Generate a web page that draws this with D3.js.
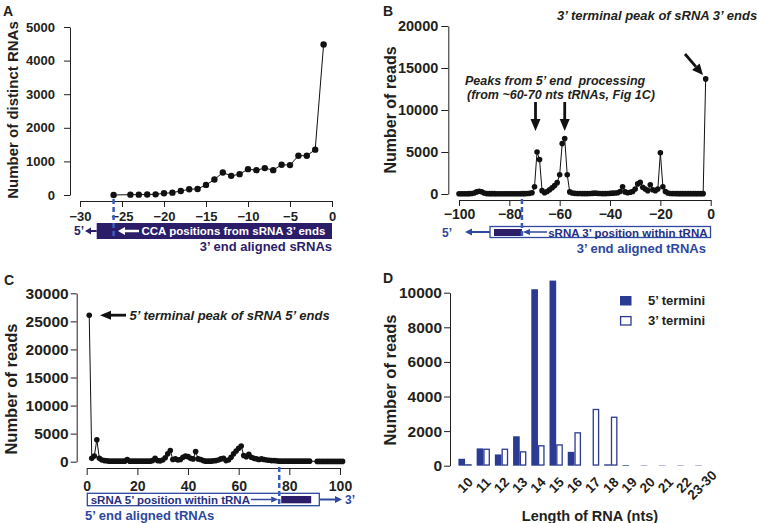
<!DOCTYPE html>
<html lang="en">
<head>
<meta charset="utf-8">
<title>sRNA termini</title>
<script src="https://d3js.org/d3.v7.min.js"></script>
<style>
  body { margin:0; background:#fff; }
  svg { width:757px; height:523px; display:block; background:#fff; }
  text { font-family:"Liberation Sans", Arial, sans-serif; font-weight:bold; fill:#231f20; }
  .tick line, .domain { stroke:#231f20; }
  .note { font-style:italic; }
</style>
</head>
<body>
<svg></svg>
<script>
// ---- data ----
// A: distinct RNAs per CCA position from sRNA 3' end
const aPos = [-26, -24, -23, -22, -21, -20, -19, -18, -17, -16, -15, -14, -13, -12, -11, -10, -9, -8, -7, -6, -5, -4, -3, -2, -1];
const aVal = [0, 10, 10, 15, 20, 50, 70, 120, 170, 180, 300, 460, 670, 570, 620, 770, 740, 800, 740, 900, 890, 1170, 1170, 1350, 4480];
const aXTicks = [-30, -25, -20, -15, -10, -5, 0];
const aYTicks = [0, 1000, 2000, 3000, 4000, 5000];

// B: reads by sRNA 3' position within tRNA (positions -100 .. -2)
const bPos = d3.range(-100, -1);
const bVal = [30, 30, 30, 30, 40, 60,
  120, 250, 330, 260, 120,
  50, 40, 40, 40, 30, 30, 30, 30, 30, 30, 30, 30, 30, 30, 40, 40, 60, 80,
  150, 850, 5000, 4100, 400, 150, 300, 500, 750, 1000, 1350, 2300, 6000, 6600, 2300, 250, 120,
  80, 60, 60, 50, 50, 50, 60, 80, 100, 80, 60, 50, 50, 60, 80, 100, 120, 150,
  300, 850, 250, 150, 200, 300, 600, 1200, 1400, 800, 600, 400, 1100, 500, 400, 600, 4900, 850, 300, 120,
  60, 50, 50, 40, 40, 40, 40, 40, 40, 40, 40, 40, 40, 40,
  13700];
const bXTicks = [-100, -80, -60, -40, -20, 0];
const bYTicks = [0, 5000, 10000, 15000, 20000];

// C: reads by sRNA 5' position within tRNA (1..88, 91..101)
const cPos = d3.range(1, 89).concat(d3.range(91, 102));
const cVal = [26100, 600, 1000, 3900, 600, 300, 200, 150,
  100, 100, 100, 100, 100, 100, 100, 400,
  100, 100, 100, 100, 100, 100, 100, 100, 100,
  200, 600, 200, 150, 300, 700, 1400, 2000, 400, 500, 300, 400, 800, 1000, 900,
  600, 500, 1800, 500, 400, 200, 100, 100, 100, 150, 200, 300, 500, 600, 200,
  300, 800, 1400, 1900, 2400, 2800, 1100, 900, 1300, 800, 600, 500, 400, 500, 400,
  300, 250, 200, 200, 150,
  100, 100, 100, 100, 100, 100, 100, 100, 100, 100, 100, 100, 100,
  50, 50, 50, 50, 50, 50, 50, 50, 50, 50, 50];
const cXTicks = [0, 20, 40, 60, 80, 100];
const cYTicks = [0, 5000, 10000, 15000, 20000, 25000, 30000];

// D: reads by RNA length
const dCats = ["10", "11", "12", "13", "14", "15", "16", "17", "18", "19", "20", "21", "22", "23-30"];
const dFive = [400, 1000, 650, 1700, 10200, 10700, 800, 0, 80, 40, 20, 20, 20, 20];
const dThree = [50, 950, 950, 800, 1150, 1200, 1900, 3250, 2800, 30, 20, 20, 20, 20];
const dYTicks = [0, 2000, 4000, 6000, 8000, 10000];

// ---- colours ----
const ink = "#231f20";
const purple = "#2c1d69";
const blue = "#2e48a0";
const dash = "#3a5cc0";
const barBlue = "#2b3a92";

const svg = d3.select("svg");
const fmt = d => d < 0 ? "\u2212" + Math.abs(d) : String(d);

function arrow(g, x1, y1, x2, y2, color, w, hl, hw) {
  const a = Math.atan2(y2 - y1, x2 - x1);
  const bx = x2 - hl * Math.cos(a), by = y2 - hl * Math.sin(a);
  g.append("line").attr("x1", x1).attr("y1", y1).attr("x2", bx).attr("y2", by)
    .attr("stroke", color).attr("stroke-width", w);
  const px = -Math.sin(a) * hw, py = Math.cos(a) * hw;
  g.append("polygon")
    .attr("points", [[x2, y2], [bx + px, by + py], [bx - px, by - py]].map(p => p.join(",")).join(" "))
    .attr("fill", color);
}

function label(x, y, txt, size, color, anchor, cls) {
  return svg.append("text").attr("x", x).attr("y", y)
    .attr("font-size", size).attr("text-anchor", anchor || "start")
    .attr("class", cls || null).style("fill", color || ink).text(txt);
}

function yTitle(x, y, txt, size) {
  svg.append("text").attr("transform", `translate(${x},${y}) rotate(-90)`)
    .attr("text-anchor", "middle").attr("font-size", size).text(txt);
}

function lineChart(pos, val, x, y, r) {
  const pts = pos.map((p, i) => ({x: p, y: val[i]}));
  svg.append("path").datum(pts)
    .attr("d", d3.line().x(d => x(d.x)).y(d => y(d.y)))
    .attr("fill", "none").attr("stroke", "#111").attr("stroke-width", 1);
  svg.append("g").selectAll("circle").data(pts).join("circle")
    .attr("cx", d => x(d.x)).attr("cy", d => y(d.y)).attr("r", r).attr("fill", "#111");
}

// ---------------- Panel A ----------------
const xA = d3.scaleLinear().domain([-30, 0]).range([80, 332]);
const yA = d3.scaleLinear().domain([0, 5000]).range([195, 27]);
svg.append("g").attr("transform", "translate(70,0)")
  .call(d3.axisLeft(yA).tickValues(aYTicks).tickFormat(fmt).tickSize(6).tickPadding(9).tickSizeOuter(0))
  .attr("font-size", 13);
svg.append("g").attr("transform", "translate(0,201)")
  .call(d3.axisBottom(xA).tickValues(aXTicks).tickFormat(fmt).tickSize(6).tickPadding(5).tickSizeOuter(0))
  .attr("font-size", 13);
lineChart(aPos, aVal, xA, yA, 3.2);
yTitle(18, 110, "Number of distinct RNAs", 15);
label(3, 16, "A", 14);

// annotation bar A
svg.append("rect").attr("x", 96.7).attr("y", 223).attr("width", xA(0) - 96.7).attr("height", 16).attr("fill", purple);
arrow(svg, 96.7, 231, 85, 231, purple, 2, 6, 3.5);
label(74, 235, "5’", 12, purple);
arrow(svg, 139, 231, 118, 231, "#fff", 2.5, 7, 4);
label(141.5, 235, "CCA positions from sRNA 3’ ends", 11.5, "#fff");
label(xA(0), 251, "3’ end aligned sRNAs", 13, purple, "end");
svg.append("line").attr("x1", xA(-26)).attr("x2", xA(-26)).attr("y1", 199).attr("y2", 239)
  .attr("stroke", dash).attr("stroke-width", 2.5).attr("stroke-dasharray", "5,3");

// ---------------- Panel B ----------------
const xB = d3.scaleLinear().domain([-100, 0]).range([459, 710.7]);
const yB = d3.scaleLinear().domain([0, 20000]).range([194, 26]);
svg.append("g").attr("transform", "translate(448.3,0)")
  .call(d3.axisLeft(yB).tickValues(bYTicks).tickFormat(fmt).tickSize(7).tickPadding(3).tickSizeOuter(0))
  .attr("font-size", 14.5);
svg.append("g").attr("transform", "translate(0,200)")
  .call(d3.axisBottom(xB).tickValues(bXTicks).tickFormat(fmt).tickSize(6).tickPadding(3).tickSizeOuter(0))
  .attr("font-size", 14);
lineChart(bPos, bVal, xB, yB, 2.8);
yTitle(396, 110, "Number of reads", 16);
label(383, 16, "B", 14);

label(465, 85, "Peaks from 5’ end  processing", 12.5, ink, "start", "note").attr("xml:space", "preserve");
label(467, 99, "(from ~60-70 nts tRNAs, Fig 1C)", 12.5, ink, "start", "note");
arrow(svg, xB(-70) + 1, 102, xB(-70) + 1, 131, "#111", 2.8, 12, 5);
arrow(svg, xB(-58), 102, xB(-58), 131, "#111", 2.8, 12, 5);
label(557, 20, "3’ terminal peak of sRNA 3’ ends", 13, ink, "start", "note");
arrow(svg, 685, 54, 703, 75, "#111", 2.8, 11, 5);

// annotation bar B
svg.append("rect").attr("x", 490).attr("y", 226.5).attr("width", 220.5).attr("height", 11)
  .attr("fill", "#fff").attr("stroke", blue).attr("stroke-width", 1.3);
svg.append("rect").attr("x", 494).attr("y", 229).attr("width", xB(-75) - 494).attr("height", 7).attr("fill", purple);
arrow(svg, 547, 232, xB(-75) + 1, 232, blue, 1.5, 7, 3);
label(707.5, 236.5, "sRNA 3’ position within tRNA", 11.5, "#27307f", "end");
arrow(svg, 490, 232, 465, 232, blue, 2, 7, 3.5);
label(442, 236.5, "5’", 12, blue);
label(706, 252.5, "3’ end aligned tRNAs", 13, blue, "end");
svg.append("line").attr("x1", xB(-75)).attr("x2", xB(-75)).attr("y1", 199).attr("y2", 238)
  .attr("stroke", dash).attr("stroke-width", 2.5).attr("stroke-dasharray", "5,3");

// ---------------- Panel C ----------------
const xC = d3.scaleLinear().domain([0, 100]).range([86.7, 340]);
const yC = d3.scaleLinear().domain([0, 30000]).range([461.7, 293.3]);
svg.append("g").attr("transform", "translate(76.7,0)")
  .call(d3.axisLeft(yC).tickValues(cYTicks).tickFormat(fmt).tickSize(6).tickPadding(2).tickSizeOuter(0))
  .attr("font-size", 15.5);
svg.append("g").attr("transform", "translate(0,468)")
  .call(d3.axisBottom(xC).tickValues(cXTicks).tickFormat(fmt).tickSize(7).tickPadding(6).tickSizeOuter(0))
  .attr("font-size", 14);
lineChart(cPos, cVal, xC, yC, 2.8);
yTitle(17, 389, "Number of reads", 16.5);
label(4, 285, "C", 14);

arrow(svg, 126, yC(26100), 100, yC(26100), "#111", 2.8, 11, 4.5);
label(129.5, yC(26100) + 4.5, "5’ terminal peak of sRNA 5’ ends", 13, ink, "start", "note");

// annotation bar C
svg.append("rect").attr("x", 87.3).attr("y", 493.3).attr("width", 232).attr("height", 12.4)
  .attr("fill", "#fff").attr("stroke", blue).attr("stroke-width", 1.3);
svg.append("rect").attr("x", xC(76) + 2).attr("y", 496).attr("width", 30).attr("height", 7.3).attr("fill", purple);
label(90.7, 503.5, "sRNA 5’ position within tRNA", 11.5, "#27307f");
arrow(svg, 251, 499.5, xC(76) - 1, 499.5, blue, 1.5, 7, 3);
arrow(svg, 320, 499.5, 342, 499.5, blue, 2, 7, 3.5);
label(345, 504, "3’", 12, blue);
label(85, 520, "5’ end aligned tRNAs", 13, blue);
svg.append("line").attr("x1", xC(76)).attr("x2", xC(76)).attr("y1", 467).attr("y2", 506)
  .attr("stroke", dash).attr("stroke-width", 2.5).attr("stroke-dasharray", "5,3");

// ---------------- Panel D ----------------
const xD = d3.scaleBand().domain(dCats).range([453.5, 713.5]).padding(0.27);
const xSub = d3.scaleBand().domain(["5", "3"]).range([0, xD.bandwidth()]);
const yD = d3.scaleLinear().domain([0, 10000]).range([465.7, 292.7]);
svg.append("g").attr("transform", "translate(450,0)")
  .call(d3.axisLeft(yD).tickValues(dYTicks).tickFormat(fmt).tickSize(6).tickPadding(2).tickSizeOuter(0))
  .attr("font-size", 15.5);

const dRows = dCats.map((c, i) => ({c, five: dFive[i], three: dThree[i]}));
const grp = svg.append("g").selectAll("g").data(dRows).join("g")
  .attr("transform", d => `translate(${xD(d.c)},0)`);
grp.append("rect")
  .attr("x", xSub("5")).attr("width", xSub.bandwidth())
  .attr("y", d => yD(d.five)).attr("height", d => Math.max(0, yD(0) - yD(d.five)))
  .attr("fill", barBlue);
grp.append("rect")
  .attr("x", xSub("3") + 0.65).attr("width", xSub.bandwidth() - 1.3)
  .attr("y", d => yD(d.three)).attr("height", d => Math.max(0, yD(0) - yD(d.three) - 0.65))
  .attr("fill", "#fff").attr("stroke", barBlue).attr("stroke-width", 1.3);
grp.append("text")
  .attr("transform", `translate(${xD.bandwidth() / 2},485) rotate(-45)`)
  .attr("text-anchor", "middle").attr("dy", "0.35em").attr("font-size", 13.5)
  .text(d => d.c);

yTitle(396, 380, "Number of reads", 16.5);
label(383, 283, "D", 14);
label(590, 521, "Length of RNA (nts)", 14.5, ink, "middle");

// legend
svg.append("rect").attr("x", 620).attr("y", 296).attr("width", 11.5).attr("height", 9.5).attr("fill", barBlue);
svg.append("rect").attr("x", 620.6).attr("y", 316.6).attr("width", 10.4).attr("height", 8.4)
  .attr("fill", "#fff").attr("stroke", barBlue).attr("stroke-width", 1.3);
label(648, 305, "5’ termini", 13);
label(648, 325, "3’ termini", 13);
</script>
</body>
</html>
